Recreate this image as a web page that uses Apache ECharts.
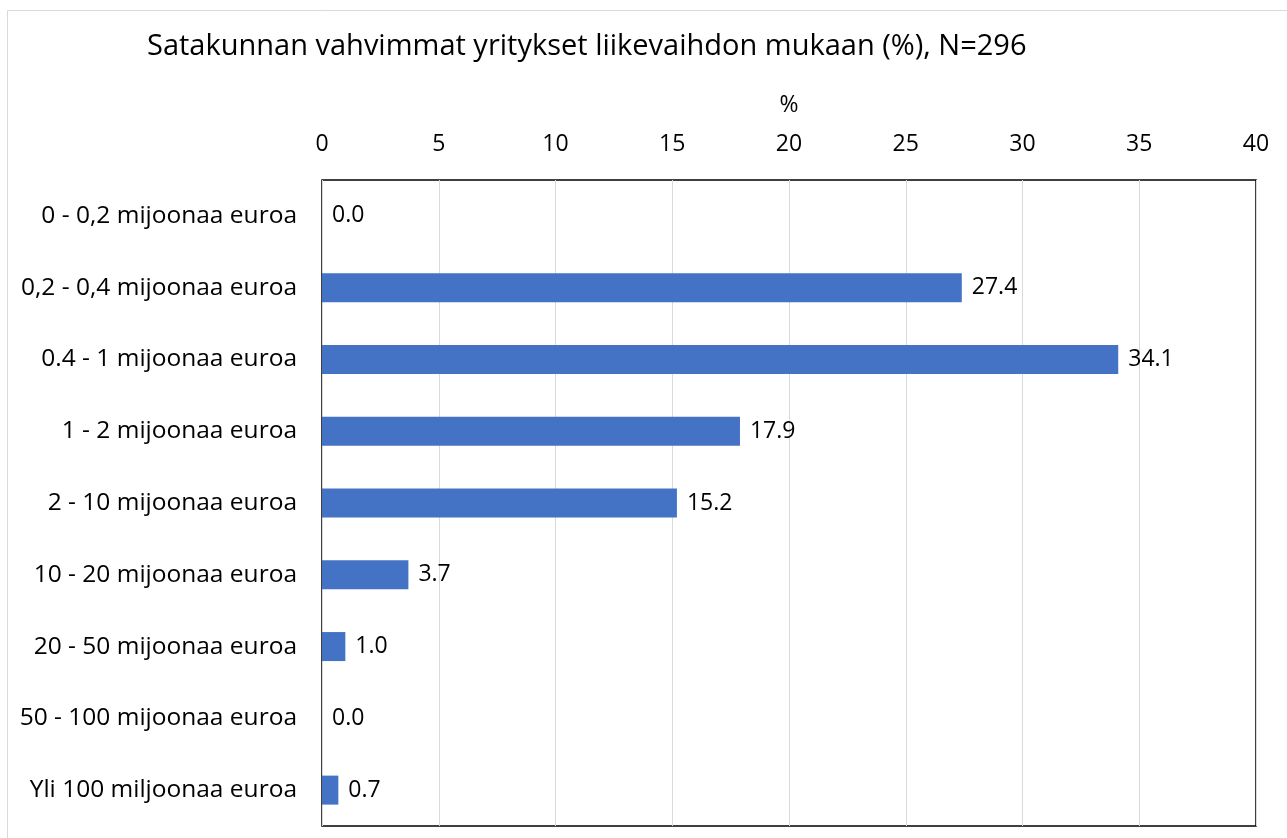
<!DOCTYPE html>
<html>
<head>
    <meta charset="utf-8">
    <script src="https://cdn.jsdelivr.net/npm/echarts@6/dist/echarts.min.js"></script>
    <style>
        html, body { margin: 0; padding: 0; background: #fff; }
        #container { width: 1287px; height: 838px; }
    </style>
</head>
<body>
    <div id="container"></div>
    <script type="text/javascript">
        var categories = [
            '0 - 0,2 mijoonaa euroa',
            '0,2 - 0,4 mijoonaa euroa',
            '0.4 - 1 mijoonaa euroa',
            '1 - 2 mijoonaa euroa',
            '2 - 10 mijoonaa euroa',
            '10 - 20 mijoonaa euroa',
            '20 - 50 mijoonaa euroa',
            '50 - 100 mijoonaa euroa',
            'Yli 100 miljoonaa euroa'
        ];
        var shares = [0.0, 27.4, 34.1, 17.9, 15.2, 3.7, 1.0, 0.0, 0.7];

        var fontName = '"Open Sans", "Noto Sans", sans-serif';
        var myChart = echarts.init(document.getElementById('container'));

        var option = {
            backgroundColor: '#fff',
            animation: false,
            title: {
                text: 'Satakunnan vahvimmat yritykset liikevaihdon mukaan (%), N=296',
                left: 142,
                top: 27,
                textStyle: { fontFamily: fontName, fontSize: 29, fontWeight: 'normal', color: '#000' }
            },
            graphic: [{
                type: 'rect',
                shape: { x: 7.5, y: 10.5, width: 1290, height: 840 },
                style: { fill: 'none', stroke: '#d9d9d9', lineWidth: 1 },
                silent: true
            }],
            grid: {
                left: 322, right: 31, top: 180, bottom: 12,
                show: true, borderColor: '#000', borderWidth: 1.5,
                containLabel: false
            },
            xAxis: {
                type: 'value',
                position: 'top',
                min: 0, max: 40, interval: 5,
                name: '%',
                nameLocation: 'middle',
                nameGap: 63,
                nameTextStyle: { fontFamily: fontName, fontSize: 23, color: '#000' },
                axisLine: { show: false },
                axisTick: { show: false },
                axisLabel: { fontFamily: fontName, fontSize: 23, color: '#000', margin: 24 },
                splitLine: { lineStyle: { color: '#d9d9d9', width: 1 } }
            },
            yAxis: {
                type: 'category',
                data: categories,
                inverse: true,
                axisLine: { show: false },
                axisTick: { show: false },
                axisLabel: { fontFamily: fontName, fontSize: 24.5, color: '#000', margin: 25 }
            },
            series: [{
                type: 'bar',
                data: shares,
                barWidth: 29,
                itemStyle: { color: '#4472c4' },
                label: {
                    show: true,
                    position: 'right',
                    distance: 10,
                    fontFamily: fontName,
                    fontSize: 23,
                    color: '#000',
                    formatter: function (p) { return p.value.toFixed(1); }
                }
            }]
        };
        myChart.setOption(option);
    </script>
</body>
</html>
